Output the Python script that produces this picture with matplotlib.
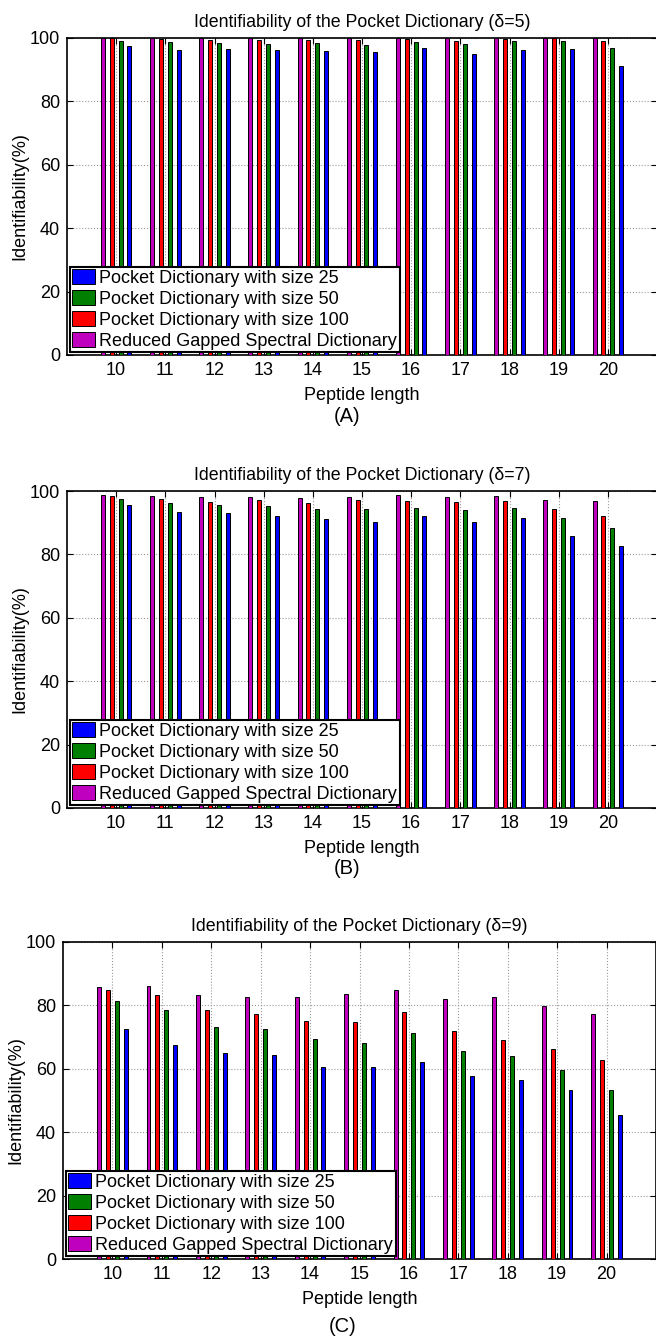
"""Identifiability of the Pocket Dictionary for delta = 5, 7, 9"""
import numpy as np
import matplotlib
matplotlib.use('Agg')
import matplotlib.pyplot as plt

plt.rcParams['font.family'] = ['Liberation Sans', 'DejaVu Sans']

lengths = [10, 11, 12, 13, 14, 15, 16, 17, 18, 19, 20]

# delta = 5
rgsd_5 = [100, 100, 100, 99.9, 100, 99.9, 100, 100, 100, 100, 100]
pd100_5 = [100, 99.6, 99.4, 99.4, 99.3, 99.3, 99.8, 99.0, 99.8, 100, 99.0]
pd50_5 = [99.2, 98.6, 98.4, 98.0, 98.4, 97.8, 98.7, 98.0, 99.0, 98.9, 97.0]
pd25_5 = [97.6, 96.1, 96.4, 96.3, 95.9, 95.6, 96.7, 95.1, 96.3, 96.5, 91.1]

# delta = 7
rgsd_7 = [98.6, 98.3, 98.0, 98.0, 97.9, 98.1, 98.6, 98.1, 98.4, 97.2, 96.9]
pd100_7 = [98.3, 97.5, 96.6, 97.2, 96.1, 97.1, 96.8, 96.4, 96.9, 94.3, 92.0]
pd50_7 = [97.4, 96.1, 95.5, 95.2, 94.3, 94.3, 94.7, 94.1, 94.5, 91.4, 88.2]
pd25_7 = [95.5, 93.5, 93.1, 92.0, 91.1, 90.2, 92.0, 90.1, 91.4, 85.8, 82.5]

# delta = 9
rgsd_9 = [85.8, 86.1, 83.2, 82.6, 82.7, 83.6, 85.0, 82.1, 82.6, 79.8, 77.3]
pd100_9 = [85.0, 83.2, 78.5, 77.3, 75.2, 74.9, 78.0, 71.8, 69.0, 66.2, 62.8]
pd50_9 = [81.3, 78.7, 73.3, 72.5, 69.5, 68.2, 71.3, 65.7, 64.1, 59.5, 53.4]
pd25_9 = [72.4, 67.4, 64.9, 64.2, 60.7, 60.7, 62.3, 57.6, 56.6, 53.2, 45.3]

deltas = [5, 7, 9]
panel_tags = ['(A)', '(B)', '(C)']
series_labels = ['Pocket Dictionary with size 25', 'Pocket Dictionary with size 50',
                 'Pocket Dictionary with size 100', 'Reduced Gapped Spectral Dictionary']
colors = ['#0000ff', '#007f00', '#ff0000', '#bf00bf']

panels = [
    [pd25_5, pd50_5, pd100_5, rgsd_5],
    [pd25_7, pd50_7, pd100_7, rgsd_7],
    [pd25_9, pd50_9, pd100_9, rgsd_9],
]

W, H = 656, 1339
fig = plt.figure(figsize=(W / 100, H / 100), dpi=100)

# axes boxes in pixels: left, top, right, bottom
boxes = [(67, 38, 657, 355), (67, 491, 657, 808), (63, 942, 656, 1259)]
tag_y = [416, 869, 1327]
tag_x = [347, 347, 343]

x = np.array(lengths)
offsets = [0.27, 0.09, -0.09, -0.27]  # blue, green, red, magenta
width = 0.08

for k, (series, box) in enumerate(zip(panels, boxes)):
    l, t, r, b = box
    ax = fig.add_axes([l / W, 1 - b / H, (r - l) / W, (b - t) / H])
    handles = []
    for vals, off, c, lab in zip(series, offsets, colors, series_labels):
        h = ax.bar(x + off, vals, width, color=c, edgecolor='black',
                   linewidth=0.7, label=lab, zorder=3)
        handles.append(h)

    ax.set_xlim(9, 21)
    ax.set_ylim(0, 100)
    ax.set_xticks(lengths)
    ax.set_yticks([0, 20, 40, 60, 80, 100])
    ax.tick_params(direction='in', top=True, right=True, labelsize=13, length=4,
                   pad=5)
    ax.grid(True, linestyle=':', color='#999999', linewidth=0.8, zorder=0)
    for s in ax.spines.values():
        s.set_linewidth(1.2)

    ax.set_title(f'Identifiability of the Pocket Dictionary (δ={deltas[k]})',
                 fontsize=12.8, pad=8)
    ax.set_ylabel('Identifiability(%)', fontsize=13, labelpad=1)
    ax.set_xlabel('Peptide length', fontsize=13, labelpad=6)

    leg = ax.legend(handles=handles, loc='lower left', fontsize=13,
                    fancybox=False, framealpha=1, edgecolor='black',
                    borderaxespad=0.15, borderpad=0.15, labelspacing=0.17,
                    handlelength=1.25, handleheight=0.9, handletextpad=0.25)
    leg.get_frame().set_linewidth(1.5)
    leg.set_zorder(5)

    fig.text(tag_x[k] / W, 1 - tag_y[k] / H, panel_tags[k], fontsize=14.5,
             ha='center', va='center')

plt.savefig('out.png', dpi=100)
plt.close('all')
